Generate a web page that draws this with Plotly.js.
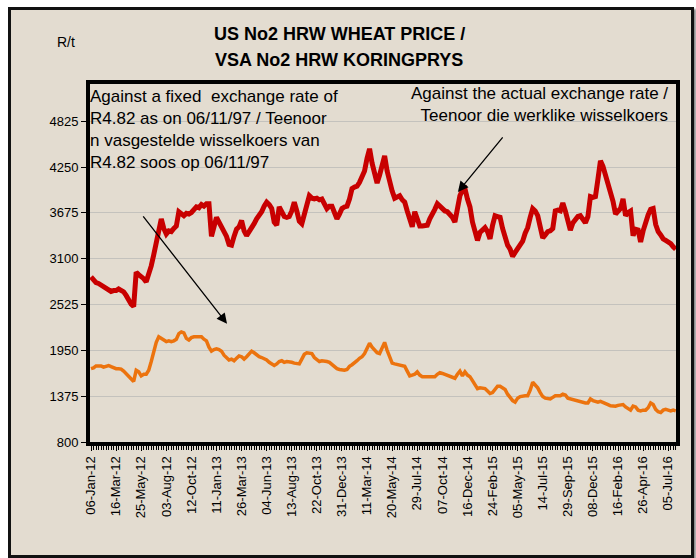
<!DOCTYPE html>
<html>
<head>
<meta charset="utf-8">
<script src="https://cdn.plot.ly/plotly-3.0.1.min.js"></script>
<style>
  html, body { margin: 0; padding: 0; background: #ffffff; width: 696px; height: 558px; overflow: hidden; }
  #frame { position: absolute; left: 8px; top: 7px; width: 680px; height: 545px; border: 3px solid #111; background: #e3dcd0; box-shadow: 2px 2px 2px #888; }
  #chart { position: absolute; left: 0; top: 0; width: 680px; height: 545px; }
</style>
</head>
<body>
<div id="frame"><div id="chart"></div></div>
<script>
// Weekly prices, R/t. Index position = week number in the series.
const actualRate = [
  2873,2840,2800,2790,2770,2760,2740,2720,2690,2700,
  2700,2720,2700,2685,2640,2570,2530,2500,2930,2900,
  2880,2850,2810,2900,3010,3150,3310,3450,3600,3480,
  3410,3450,3440,3480,3510,3690,3660,3640,3670,3660,
  3680,3720,3750,3740,3780,3760,3790,3790,3380,3500,
  3620,3560,3500,3470,3380,3280,3270,3380,3470,3500,
  3580,3450,3390,3440,3480,3540,3600,3640,3690,3760,
  3810,3780,3730,3560,3520,3750,3680,3630,3620,3630,
  3700,3810,3700,3570,3540,3650,3800,3890,3860,3850,
  3860,3840,3850,3800,3730,3760,3760,3680,3600,3660,
  3730,3750,3760,3850,3980,4000,4010,4060,4130,4200,
  4360,4480,4300,4140,4050,4150,4300,4390,4200,4060,
  3950,3860,3880,3890,3840,3810,3700,3570,3500,3690,
  3600,3510,3510,3510,3520,3600,3650,3720,3790,3760,
  3720,3700,3690,3660,3620,3560,3760,3890,3960,3980,
  3850,3750,3560,3440,3330,3430,3470,3490,3440,3350,
  3520,3640,3630,3620,3480,3350,3270,3220,3130,3180,
  3230,3270,3320,3420,3490,3620,3730,3700,3640,3500,
  3360,3400,3440,3450,3480,3700,3710,3700,3800,3700,
  3560,3460,3550,3600,3630,3640,3580,3550,3630,3880,
  3870,3880,4100,4330,4260,4150,4060,3930,3820,3660,
  3700,3730,3850,3640,3680,3700,3390,3470,3460,3310,
  3450,3560,3650,3720,3730,3530,3440,3400,3350,3330,
  3310,3290,3250,3220
];
const fixedRate = [
  1720,1730,1755,1760,1755,1740,1750,1760,1745,1730,
  1720,1720,1715,1690,1660,1620,1590,1560,1700,1680,
  1630,1650,1650,1700,1810,1920,2050,2120,2100,2070,
  2060,2070,2060,2070,2090,2160,2180,2170,2100,2080,
  2110,2120,2120,2110,2120,2090,2070,1990,1940,1960,
  1970,1960,1940,1890,1860,1830,1840,1820,1850,1880,
  1870,1840,1870,1900,1940,1920,1890,1870,1860,1850,
  1830,1800,1780,1760,1780,1810,1820,1800,1810,1810,
  1800,1790,1790,1780,1840,1900,1920,1920,1910,1860,
  1830,1810,1820,1820,1810,1800,1770,1740,1720,1710,
  1700,1700,1710,1750,1770,1790,1820,1850,1870,1910,
  1980,2040,1990,1950,1920,1910,1980,2050,1950,1860,
  1790,1780,1770,1770,1760,1750,1690,1630,1640,1650,
  1680,1640,1620,1620,1620,1620,1620,1620,1650,1670,
  1660,1650,1640,1620,1610,1600,1650,1690,1630,1680,
  1640,1620,1570,1520,1470,1480,1470,1470,1440,1410,
  1420,1460,1500,1500,1480,1460,1400,1350,1320,1300,
  1350,1370,1380,1380,1380,1450,1550,1520,1480,1420,
  1370,1350,1350,1340,1360,1380,1380,1380,1400,1390,
  1350,1340,1330,1320,1320,1310,1300,1290,1290,1340,
  1320,1310,1300,1310,1300,1290,1270,1255,1250,1250,
  1260,1270,1270,1240,1220,1200,1250,1240,1200,1190,
  1200,1200,1230,1290,1270,1210,1180,1170,1200,1210,
  1200,1190,1200,1190
];
// Category labels shown on the axis (every 10th week)
const tickLabels = [
  "06-Jan-12","16-Mar-12","25-May-12","03-Aug-12","12-Oct-12","11-Jan-13",
  "26-Mar-13","04-Jun-13","13-Aug-13","22-Oct-13","31-Dec-13","11-Mar-14",
  "20-May-14","29-Jul-14","07-Oct-14","16-Dec-14","24-Feb-15","05-May-15",
  "14-Jul-15","29-Sep-15","08-Dec-15","16-Feb-16","26-Apr-16","05-Jul-16"
];
const labelEvery = 10;
const tickPositions = tickLabels.map((_, i) => i * labelEvery);
const weeks = actualRate.map((_, i) => i);

const FONT = "Liberation Sans, Arial, sans-serif";

const traces = [
  { x: weeks, y: actualRate, type: "scatter", mode: "lines",
    line: { color: "#c80000", width: 5 }, hoverinfo: "skip" },
  { x: weeks, y: fixedRate, type: "scatter", mode: "lines",
    line: { color: "#ec730e", width: 3.5 }, hoverinfo: "skip" }
];

const layout = {
  width: 680, height: 545,
  margin: { l: 79, r: 15, t: 74, b: 113 },
  paper_bgcolor: "rgba(0,0,0,0)",
  plot_bgcolor: "rgba(0,0,0,0)",
  showlegend: false,
  font: { family: FONT, size: 13, color: "#000" },
  xaxis: {
    range: [-0.4, 233.1],
    tickmode: "array", tickvals: tickPositions, ticktext: tickLabels,
    tickangle: -90, ticks: "outside", ticklen: 5, tickcolor: "#000",
    minor: { tick0: 0, dtick: 1, ticks: "outside", ticklen: 4, tickcolor: "#000", tickwidth: 1 },
    showgrid: false, zeroline: false,
    showline: true, linecolor: "#000", linewidth: 4, mirror: true,
    tickfont: { family: FONT, size: 13, color: "#000" }
  },
  yaxis: {
    range: [800, 5293],
    tick0: 800, dtick: 575,
    ticks: "outside", ticklen: 5, tickcolor: "#000",
    showgrid: true, gridcolor: "#c4c2bd", gridwidth: 1,
    zeroline: false,
    showline: true, linecolor: "#000", linewidth: 4, mirror: true,
    tickfont: { family: FONT, size: 13, color: "#000" },
    ticklabelstandoff: 0
  },
  annotations: [
    { xref: "paper", yref: "paper", x: 0.425, y: 1, yshift: 50, xanchor: "center", yanchor: "middle",
      text: "<b>US No2 HRW WHEAT PRICE /</b>", showarrow: false,
      font: { family: FONT, size: 18, color: "#000" } },
    { xref: "paper", yref: "paper", x: 0.425, y: 1, yshift: 24, xanchor: "center", yanchor: "middle",
      text: "<b>VSA No2 HRW KORINGPRYS</b>", showarrow: false,
      font: { family: FONT, size: 18, color: "#000" } },
    { xref: "paper", yref: "paper", x: 0, xshift: -13, y: 1, yshift: 42, xanchor: "right", yanchor: "middle",
      text: "R/t", showarrow: false, font: { family: FONT, size: 14, color: "#000" } },
    { xref: "paper", yref: "paper", x: 0, xshift: -2, y: 1, yshift: -1, xanchor: "left", yanchor: "top", align: "left",
      text: "Against a fixed  exchange rate of<br>R4.82 as on 06/11/97 / Teenoor<br>n vasgestelde wisselkoers van<br>R4.82 soos op 06/11/97",
      showarrow: false, font: { family: FONT, size: 17, color: "#000" } },
    { xref: "paper", yref: "paper", x: 1, xshift: -6, y: 1, yshift: 2, xanchor: "right", yanchor: "top", align: "right",
      text: "Against the actual exchange rate /<br>Teenoor die werklike wisselkoers",
      showarrow: false, font: { family: FONT, size: 17, color: "#000" } },
    { xref: "x", yref: "y", x: 54.2, y: 2283, ax: -85, ay: -109, text: "",
      showarrow: true, arrowhead: 2, arrowsize: 1.6, arrowwidth: 1.3, arrowcolor: "#000" },
    { xref: "x", yref: "y", x: 146.2, y: 3939, ax: 46, ay: -56, text: "",
      showarrow: true, arrowhead: 2, arrowsize: 1.6, arrowwidth: 1.3, arrowcolor: "#000" }
  ]
};

Plotly.newPlot("chart", traces, layout, { staticPlot: true, displayModeBar: false });
</script>
</body>
</html>
